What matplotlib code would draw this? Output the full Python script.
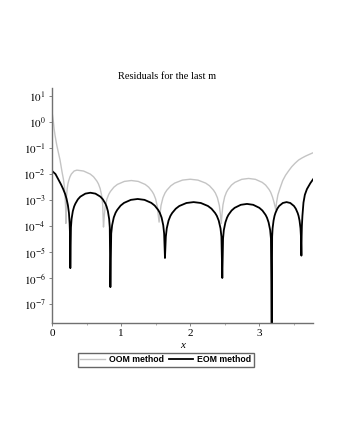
import numpy as np
import matplotlib
matplotlib.use("Agg")
import matplotlib.pyplot as plt
from matplotlib.ticker import FixedLocator, MultipleLocator, NullFormatter

plt.rcParams["font.family"] = ["Liberation Serif", "DejaVu Serif"]
plt.rcParams["mathtext.fontset"] = "stix"

# OOM method residuals: x and log10(residual)
oom_x = [0.0, 0.01, 0.02, 0.03, 0.043, 0.068, 0.09, 0.116, 0.145, 0.165, 0.18, 0.19, 0.197, 0.2,
         0.205, 0.21, 0.22, 0.23, 0.24, 0.26, 0.28, 0.32, 0.36,
         0.456, 0.5525, 0.601, 0.649, 0.672, 0.697, 0.721, 0.7334, 0.745,
         0.757, 0.770, 0.795, 0.8215, 0.8456, 0.896, 0.946, 1.047, 1.1475,
         1.248, 1.349, 1.399, 1.4494, 1.4735, 1.500, 1.525, 1.538, 1.55,
         1.5635, 1.578, 1.606, 1.6355, 1.6625, 1.719, 1.775, 1.8875, 2.0,
         2.1125, 2.225, 2.281, 2.3375, 2.3645, 2.394, 2.422, 2.4365, 2.45,
         2.462, 2.475, 2.499, 2.525, 2.549, 2.598, 2.6475, 2.746, 2.845,
         2.944, 3.0425, 3.092, 3.141, 3.165, 3.191, 3.215, 3.24,
         3.25, 3.27, 3.30, 3.34, 3.38, 3.43, 3.47, 3.52, 3.57, 3.62, 3.67, 3.72, 3.78]
oom_log = [0.4, 0.2, 0.0, -0.25, -0.5, -0.88, -1.15, -1.46, -1.92, -2.2, -2.5, -2.9, -3.3, -3.9,
           -3.18, -2.86, -2.56, -2.38, -2.27, -2.105, -2.0, -1.884, -1.85,
           -1.884, -2.0, -2.105, -2.27, -2.38, -2.56, -2.86, -3.18, -4.04,
           -3.58, -3.26, -2.96, -2.78, -2.67, -2.505, -2.40, -2.284, -2.25,
           -2.284, -2.40, -2.505, -2.67, -2.78, -2.96, -3.26, -3.58, -3.85,
           -3.53, -3.21, -2.91, -2.73, -2.62, -2.455, -2.35, -2.234, -2.2,
           -2.234, -2.35, -2.455, -2.62, -2.73, -2.91, -3.21, -3.53, -3.9,
           -3.5, -3.18, -2.88, -2.70, -2.59, -2.425, -2.32, -2.204, -2.17,
           -2.204, -2.32, -2.425, -2.59, -2.70, -2.88, -3.1, -3.38,
           -3.1, -2.8, -2.55, -2.25, -2.05, -1.86, -1.72, -1.58, -1.46, -1.38, -1.31, -1.25, -1.18]

# EOM method residuals
eom_x = [0.0, 0.05, 0.09, 0.13, 0.16, 0.19, 0.21, 0.23, 0.245, 0.255, 0.26, 0.265,
         0.274, 0.283, 0.301, 0.320, 0.338, 0.374, 0.410, 0.483, 0.555,
         0.628, 0.700, 0.736, 0.773, 0.790, 0.809, 0.827, 0.836, 0.845,
         0.857, 0.870, 0.894, 0.920, 0.944, 0.993, 1.0425, 1.141, 1.24,
         1.339, 1.4375, 1.487, 1.536, 1.560, 1.586, 1.610, 1.623, 1.635,
         1.6475, 1.661, 1.687, 1.714, 1.739, 1.791, 1.8425, 1.946, 2.05,
         2.154, 2.2575, 2.309, 2.361, 2.386, 2.413, 2.439, 2.4525, 2.465,
         2.476, 2.487, 2.510, 2.533, 2.554, 2.599, 2.644, 2.733, 2.8225,
         2.912, 3.001, 3.046, 3.091, 3.112, 3.135, 3.158, 3.169, 3.18,
         3.1865, 3.193, 3.207, 3.221, 3.234, 3.261, 3.2875, 3.341, 3.395,
         3.449, 3.5025, 3.529, 3.556, 3.569, 3.583, 3.597, 3.6035, 3.61,
         3.6135, 3.617, 3.625, 3.64, 3.66, 3.69, 3.74, 3.78]
eom_log = [-1.88, -2.0, -2.2, -2.4, -2.57, -2.77, -2.95, -3.2, -3.5, -3.9, -4.3, -5.62,
           -4.05, -3.73, -3.43, -3.25, -3.14, -2.975, -2.87, -2.754, -2.72,
           -2.754, -2.87, -2.975, -3.14, -3.25, -3.43, -3.73, -4.05, -6.35,
           -4.29, -3.97, -3.67, -3.49, -3.38, -3.215, -3.11, -2.994, -2.96,
           -2.994, -3.11, -3.215, -3.38, -3.49, -3.67, -3.97, -4.29, -5.23,
           -4.41, -4.09, -3.79, -3.61, -3.50, -3.335, -3.23, -3.114, -3.08,
           -3.114, -3.23, -3.335, -3.50, -3.61, -3.79, -4.09, -4.41, -6.0,
           -4.48, -4.16, -3.86, -3.68, -3.57, -3.405, -3.30, -3.184, -3.15,
           -3.184, -3.30, -3.405, -3.57, -3.68, -3.86, -4.16, -4.48, -7.75,
           -4.41, -4.09, -3.79, -3.61, -3.50, -3.335, -3.23, -3.114, -3.08,
           -3.114, -3.23, -3.335, -3.50, -3.61, -3.79, -4.09, -4.41, -5.14,
           -4.4, -4.0, -3.6, -3.1, -2.8, -2.58, -2.35, -2.2]

decades = [1, 0, -1, -2, -3, -4, -5, -6, -7]
tick_labels = ["$10^{%d}$" % d for d in decades]

fig = plt.figure(figsize=(3.4, 4.4), dpi=100)
ax = fig.add_axes([0.153, 0.266, 0.768, 0.534])

ax.plot(oom_x, 10.0 ** np.array(oom_log), color="#c4c4c4", lw=1.0, label="OOM method")
ax.plot(eom_x, 10.0 ** np.array(eom_log), color="black", lw=1.3, label="EOM method")

ax.set_yscale("log")
ax.set_xlim(0, 3.78)
ax.set_ylim(10 ** -7.73, 10 ** 1.31)
ax.yaxis.set_major_locator(FixedLocator([10.0 ** d for d in decades]))
ax.yaxis.set_minor_locator(FixedLocator([]))
ax.set_yticklabels(tick_labels)
ax.xaxis.set_major_locator(MultipleLocator(1))
ax.xaxis.set_minor_locator(MultipleLocator(0.5))
ax.xaxis.set_minor_formatter(NullFormatter())

for side in ["top", "right"]:
    ax.spines[side].set_visible(False)
for side in ["left", "bottom"]:
    ax.spines[side].set_color("#707070")
    ax.spines[side].set_linewidth(1.0)
ax.tick_params(axis="both", which="major", direction="out", length=2.5, width=0.6,
               color="#707070", labelsize=8, pad=2)
ax.tick_params(axis="x", which="minor", direction="out", length=1.5, width=0.5, color="#909090")

ax.set_xlabel("x", fontsize=8, style="italic", labelpad=2)
fig.text(0.49, 0.827, "Residuals for the last m", ha="center", va="center", fontsize=7.5)

leg = fig.legend(loc="center", bbox_to_anchor=(0.488, 0.182), ncol=2, frameon=True,
                 fancybox=False, prop={"family": "Liberation Sans", "weight": "bold", "size": 6.3},
                 handlelength=2.8, handletextpad=0.5, columnspacing=0.5, borderpad=0.3)
leg.get_frame().set_edgecolor("#404040")
leg.get_frame().set_linewidth(1.0)

fig.savefig("out.png", dpi=100)
